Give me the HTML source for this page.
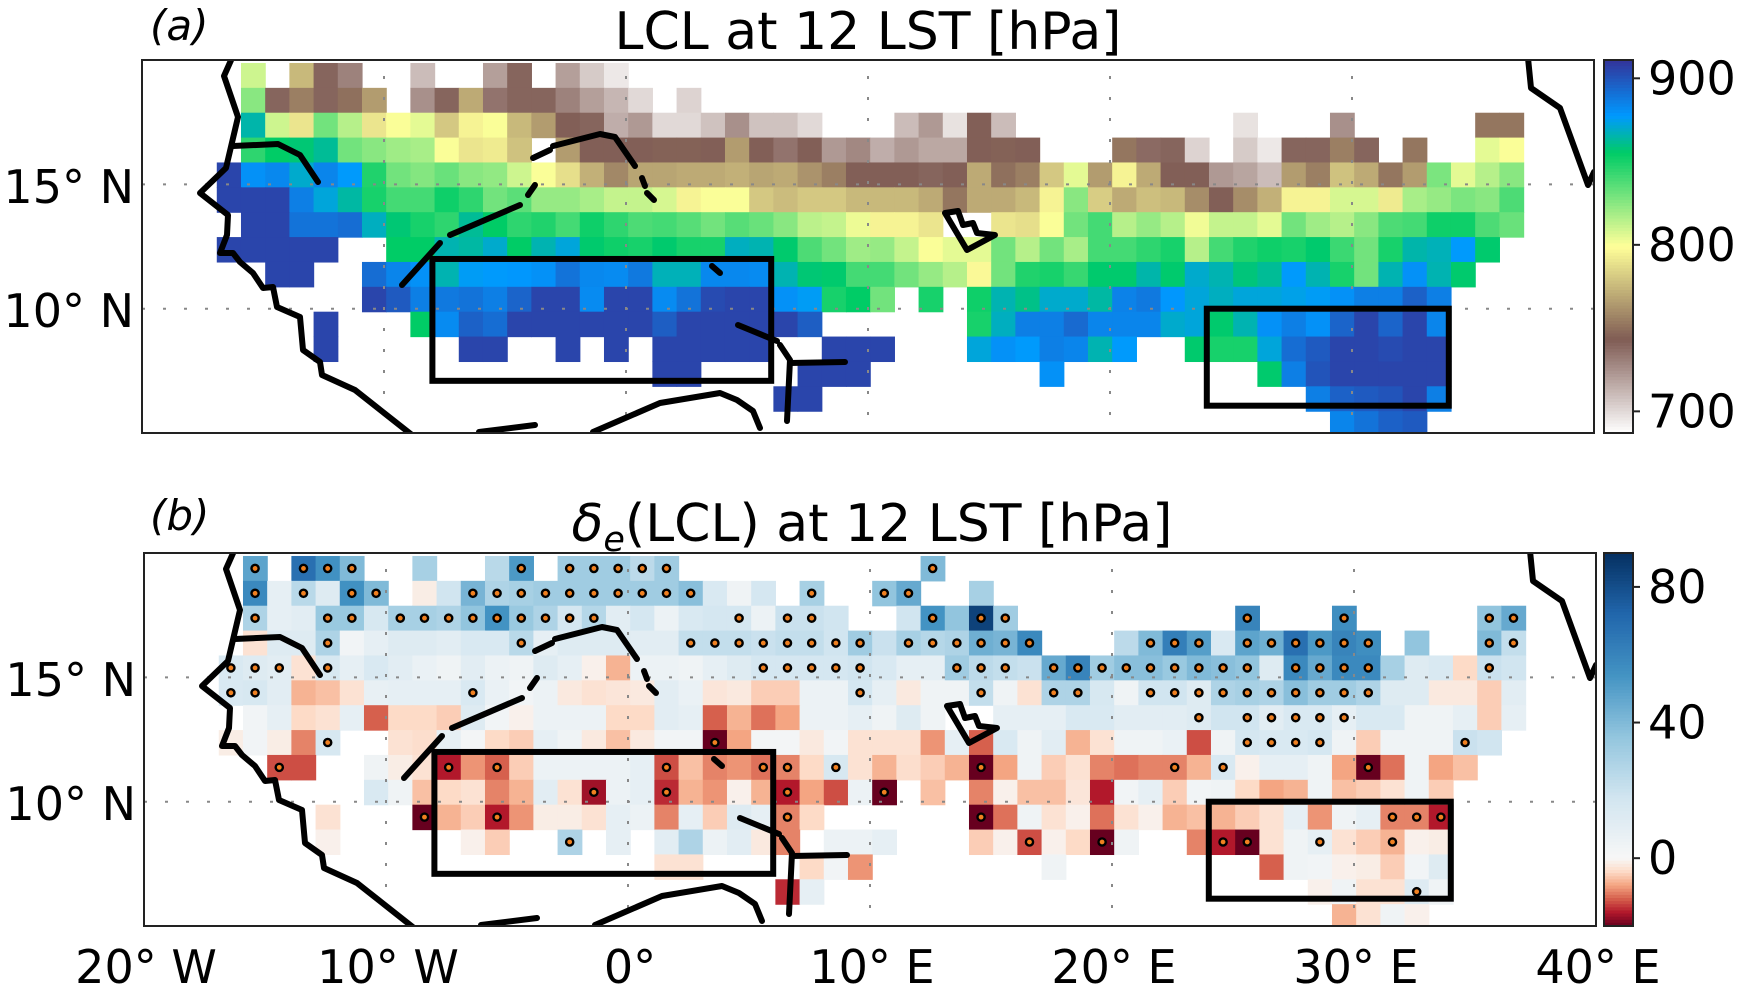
<!DOCTYPE html>
<html><head><meta charset="utf-8"><title>LCL maps</title>
<style>
html,body{margin:0;padding:0;background:#fff;}
svg{display:block;font-family:"DejaVu Sans","Liberation Sans",sans-serif;}
</style></head>
<body>
<svg id="fig" width="1741" height="993" viewBox="0 0 1741 993" xmlns="http://www.w3.org/2000/svg">
<defs>
<clipPath id="clipA"><rect x="142" y="60" width="1452" height="373"/></clipPath>
<clipPath id="clipB"><rect x="144" y="553" width="1452" height="373"/></clipPath>
</defs>
<rect x="0" y="0" width="1741" height="993" fill="#fff"/>
<g id="cellsA" clip-path="url(#clipA)"></g>
<g id="cellsB" clip-path="url(#clipB)"></g>
<g id="overA" clip-path="url(#clipA)"></g>
<g id="overB" clip-path="url(#clipB)"></g>
<rect x="142" y="60" width="1452" height="373" fill="none" stroke="#222" stroke-width="2"/>
<rect x="144" y="553" width="1452" height="373" fill="none" stroke="#222" stroke-width="2"/>
<g id="cbarA"></g>
<g id="cbarB"></g>

<text x="150" y="40" font-size="42" font-style="italic">(a)</text>
<text x="868" y="49" font-size="52" text-anchor="middle">LCL at 12 LST [hPa]</text>
<text x="150" y="530" font-size="42" font-style="italic">(b)</text>
<text x="872" y="541" font-size="52" text-anchor="middle"><tspan font-style="italic">δ</tspan><tspan font-style="italic" font-size="35" dy="10">e</tspan><tspan dy="-10">(LCL) at 12 LST [hPa]</tspan></text>

<g font-size="46" text-anchor="end">
<text x="134" y="203">15° N</text>
<text x="134" y="327">10° N</text>
<text x="136" y="696">15° N</text>
<text x="136" y="820">10° N</text>
</g>
<g font-size="46" text-anchor="middle">
<text x="146" y="983">20° W</text>
<text x="388" y="983">10° W</text>
<text x="630" y="983">0°</text>
<text x="872" y="983">10° E</text>
<text x="1114" y="983">20° E</text>
<text x="1356" y="983">30° E</text>
<text x="1598" y="983">40° E</text>
</g>
</svg>
<script>
const _ = null;
// Panel (a): LCL [hPa]; columns j=-1..52 (lon west edge -16.91+k), rows from 19.88N downward
const lclRows = [
[_,810,_,775,740,730,_,_,710,_,_,720,740,_,720,705,695],
[_,825,740,755,740,750,765,_,725,740,770,735,740,740,730,720,712,700,_,702],
[_,865,810,790,830,815,790,800,805,780,795,800,775,765,742,740,715,722,700,700,708,725,708,708,700,_,_,_,710,722,697,742,710,_,_,_,_,_,_,_,_,_,697,_,_,_,725,_,_,_,_,_,752,752],
[_,845,855,857,862,830,825,820,818,800,790,792,778,_,765,742,742,742,745,745,742,765,742,735,742,722,728,715,722,717,717,742,745,742,_,_,_,752,738,740,702,_,705,695,740,740,755,740,_,752,_,_,805,800],
[905,880,883,870,884,877,848,830,826,832,825,823,810, 800,788,772,758,768,768,770,770,772,768,770,762,755,742, 742,742,740,742,770,750,755,780,805,765,795,770,742,742, 722,718,710,765,755,778,770,752,765,828,805,815,825],
[905,905,905,886,872,864,850,840,840,852,845,830,835, 822,822,818,812,812,808,795,800,800,780,776,780,780,775, 775,775,770,752,770,770,775,795,825,782,770,777,775,760, 742,760,772,795,795,808,808,792,818,822,828,825,838],
[_,905,905,890,890,892,868,857,850,845,862,855,845, 848,840,852,845,838,840,836,830,836,832,825,814,812,803, 795,795,790,_,_,790,788,800,830,840,815,822,815,802, 812,812,805,830,820,815,825,838,840,852,852,838,832],
[905,905,905,905,905,_,_,855,855,866,864,870,855, 866,872,856,852,850,856,850,850,868,866,856,838,830,820, 822,812,800,805,805,830,815,830,818,840,840,845,850,815, 840,848,852,850,856,842,830,850,865,867,877,856,_],
[_,_,905,905,_,_,892,884,880,866,876,877,878, 880,890,883,882,888,867,867,883,883,882,866,857,856,840, 840,830,822,815,797,830,848,850,843,856,856,865,856,870, 866,858,862,877,866,850,830,866,880,866,856],
[_,_,_,_,_,_,905,898,886,888,890,886,895, 905,905,882,905,905,882,890,903,905,905,880,876,850,855, 830,_,850,_,852,866,860,870,870,864,885,888,878,872, 868,872,872,874,876,880,886,886,896,886],
[_,_,_,_,905,_,_,_,855,882,896,892,905, 905,905,905,905,905,897,905,905,905,905,905,897,_,_, _,_,_,_,850,868,886,886,893,884,884,884,870,872, 856,866,880,886,880,895,905,895,905,884],
[_,_,_,_,905,_,_,_,_,_,905,905,_, _,905,_,905,_,905,905,905,905,905,_,_,905,905, 905,_,_,_,872,880,877,886,884,866,877,_,_,856, 850,850,872,892,898,905,905,903,905,905],
[_,_,_,_,_,_,_,_,_,_,_,_,_, _,_,_,_,_,905,905,_,_,_,_,905,905,905, _,_,_,_,_,_,_,880,_,_,_,_,_,_, _,_,856,886,900,905,905,905,905,905],
[_,_,_,_,_,_,_,_,_,_,_,_,_, _,_,_,_,_,_,_,_,_,_,905,905,_,_, _,_,_,_,_,_,_,_,_,_,_,_,_,_, _,_,_,_,886,896,898,900,905,886],
[_,_,_,_,_,_,_,_,_,_,_,_,_, _,_,_,_,_,_,_,_,_,_,_,_,_,_, _,_,_,_,_,_,_,_,_,_,_,_,_,_, _,_,_,_,_,884,890,896,898]
];
// Panel (b): delta_e(LCL) [hPa]
const dRows = [
[_,48,_,68,55,40,_,_,30,_,_,25,52, _,32,32,32,24,32,_,_,_,_,_,_,_,_, _,_,40],
[_,58,8,25,12,55,40,_,-1.5,18,42,28,30, 32,32,32,32,32,32,38,14,4,16,_,30,_,_, 36,46,_,_,30],
[_,28,8,10,34,34,15,30,30,28,36,54,34, 28,16,26,10,16,5,14,16,16,5,20,20,18,_, _,18,54,36,84,32,_,_,_,_,_,_,_,_, _,60,_,_,_,56,_,_,_,_,_,36,46],
[_,-3,12,12,28,3,8,12,12,10,14,14,25, 8,12,12,12,10,10,22,22,22,20,22,22,18,32, 20,30,26,28,44,42,58,_,_,_,24,40,62,50, 14,48,44,68,52,60,56,_,36,_,_,40,22],
[14,12,10,-3,15,8,14,10,6,4,10,5,4, 12,8,-1,-7,5,5,4,8,12,16,16,16,16,18, 14,8,8,32,24,22,20,46,60,32,38,38,34,40, 38,36,12,58,46,58,58,30,12,14,-4,20,18],
[14,15,10,-7,-6,-3,7,8,8,8,14,6,3, 5,-2,-3,-2.5,-2,10,6,-2.5,-2,-5,-5,5,5,16, 8,-2,4,4,22,4,-3,28,28,15,4,18,18,12, 28,30,28,38,32,32,28,12,12,-2,-2,-5,10],
[_,3,8,-4,-3,8,-12,-4,-4,-5,12,3,-1, 5,5,5,-4,-4,10,8,-12,-7,-11,-8,5,5,8, 4,12,4,_,_,8,8,8,14,14,10,10,10,12, 18,18,10,14,14,8,14,14,4,4,8,-5,8],
[-1.5,3,-1.5,-10,15,_,_,-3,-3.5,8,2,-4,-5, 8,4,-2,-6,-2,3,3,-20,-8,2,2,-2,3,-3, -3,-3,-9,8,-12,14,4,10,-7,-3,4,4,6,-13, 4,16,14,14,16,4,-5,4,4,4,20,18,_],
[_,_,-13,-13,_,_,4,-1.5,-3,-16,-9,-12,-5, 5,5,5,5,8,-13,-6,-10,-9,-11,-10,-4,15,-3, -7,-3.5,-5,-7,-20,-8,4,-5,-3,-10,-11,-10,-10,-7, 14,-1,8,8,4,-8,-20,-11,4,-8,-6],
[_,_,_,_,_,_,14,4,-6,-4,-3,-10,-7, 10,-3,-17,5,8,-15,-7,-9,-1,-7,-16,-8,-13,5, -20,_,-6,_,-10,-1,-6,-6,-2.5,-16,3,8,-5,3, 4,-4,-8,-7,4,-6,-5,-3,4,-5],
[_,_,_,_,-3,_,_,_,-20,-7,-5,-16,-9, -1.5,-1.5,-3,8,5,-10,8,-5,12,8,-10,-4,_,_, _,_,_,_,-20,-11,4,-3,-1,-11,-3,-1,-7,-6, -7,-5,-3,8,-9,4,8,-10,-10,-16],
[_,_,_,_,-1,_,_,_,_,_,-1,-5,_, _,28,_,8,_,10,28,5,10,-2,-10,_,5,5, 8,_,_,_,-5,-1,-13,-1,-4,-20,4,_,_,-10, -16,-20,-3,4,8,-3,-5,-7,-1,-1.5],
[_,_,_,_,_,_,_,_,_,_,_,_,_, _,_,_,_,_,-3,-3,_,_,_,_,-4,3,-9, _,_,_,_,_,_,_,4,_,_,_,_,_,_, _,_,-12,4,3,-1,-1.5,-5,3,12],
[_,_,_,_,_,_,_,_,_,_,_,_,_, _,_,_,_,_,_,_,_,_,_,-15,8,_,_, _,_,_,_,_,_,_,_,_,_,_,_,_,_, _,_,_,_,-1,4,-3,-3,12,4],
[_,_,_,_,_,_,_,_,_,_,_,_,_, _,_,_,_,_,_,_,_,_,_,_,_,_,_, _,_,_,_,_,_,_,_,_,_,_,_,_,_, _,_,_,_,_,-7,-3,4,-1]
];
// significant cells (column index j, -1..52) per row
const sigRows = [
[0,2,3,4,11,13,14,15,16,17,28],
[0,2,4,5,9,10,11,12,13,14,15,16,17,18,23,26,27],
[0,3,4,6,7,8,9,10,11,12,13,14,20,22,23,28,30,31,41,45,51,52],
[3,11,18,19,20,21,22,23,24,25,27,28,29,30,31,32,37,38,39,41,42,43,44,45,46,51,52],
[-1,0,1,3,21,22,23,24,25,29,30,31,33,34,35,36,37,38,39,40,41,43,44,45,46,51],
[-1,0,9,25,30,33,34,37,38,39,40,41,42,43,44,45,46],
[39,41,42,43,44,45],
[3,19,41,42,43,44,50],
[1,8,10,17,21,22,24,30,38,40,46],
[14,17,22,26],
[7,10,22,30,47,48,49],
[13,32,35,40,41,44,47],
[],
[48],
[]
];
const lclTicks = [700,800,900];
const dTicks = [0,40,80];
const lclRange = [687,911];
const dRange = [-20,90];
const gridLons = [-10,0,10,20,30];
const gridLats = [10,15];

const NS='http://www.w3.org/2000/svg';
function mk(tag, attrs, parent){const e=document.createElementNS(NS,tag);for(const k in attrs)e.setAttribute(k,attrs[k]);parent.appendChild(e);return e;}

const PX_LON=24.2, PX_LAT=24.87;
function xA(lon){return 142+(lon+20)*PX_LON;}
function xB(lon){return 144+(lon+20)*PX_LON;}
function yA(lat){return 60+(20-lat)*PX_LAT;}
function yB(lat){return 553+(20-lat)*PX_LAT;}
function cellLonW(k){return -16.91+k;}
function cellLatN(i){return 19.88-i;}

function lerpStops(stops,t){
  t=Math.max(0,Math.min(1,t));
  for(let i=1;i<stops.length;i++){if(t<=stops[i][0]){const a=stops[i-1],b=stops[i];const f=(t-a[0])/(b[0]-a[0]||1);
    const c=[0,1,2].map(m=>Math.round(255*(a[1][m]+(b[1][m]-a[1][m])*f)));return 'rgb('+c.join(',')+')';}}
  const l=stops[stops.length-1][1];return 'rgb('+l.map(v=>Math.round(v*255)).join(',')+')';
}
const terrain=[[0,[0.2,0.2,0.6]],[0.15,[0,0.6,1]],[0.25,[0,0.8,0.4]],[0.5,[1,1,0.6]],[0.75,[0.5,0.36,0.33]],[1,[1,1,1]]];
const hex=h=>[parseInt(h.slice(1,3),16)/255,parseInt(h.slice(3,5),16)/255,parseInt(h.slice(5,7),16)/255];
const rdbu=['#67001f','#b2182b','#d6604d','#f4a582','#fddbc7','#f7f7f7','#d1e5f0','#92c5de','#4393c3','#2166ac','#053061'].map((h,i)=>[i/10,hex(h)]);
function colA(v){return lerpStops(terrain,(lclRange[1]-v)/(lclRange[1]-lclRange[0]));}
function colB(v){const t=v<0?0.5+0.5*v/(-dRange[0]):0.5+0.5*v/dRange[1];return lerpStops(rdbu,t);}

const gA=document.getElementById('cellsA'), gB=document.getElementById('cellsB');
lclRows.forEach((row,i)=>row.forEach((v,k)=>{
  if(v===null||v===undefined)return;
  const x0=xA(cellLonW(k)), x1=xA(cellLonW(k)+1), y0=yA(cellLatN(i)), y1=yA(cellLatN(i)-1);
  const r=mk('rect',{x:x0.toFixed(2),y:y0.toFixed(2),width:(x1-x0+0.6).toFixed(2),height:(y1-y0+0.6).toFixed(2),fill:colA(v)},gA);
  
  
}));
dRows.forEach((row,i)=>row.forEach((v,k)=>{
  if(v===null||v===undefined)return;
  const x0=xB(cellLonW(k)), x1=xB(cellLonW(k)+1), y0=yB(cellLatN(i)), y1=yB(cellLatN(i)-1);
  const r=mk('rect',{x:x0.toFixed(2),y:y0.toFixed(2),width:(x1-x0+0.6).toFixed(2),height:(y1-y0+0.6).toFixed(2),fill:colB(v)},gB);
  
  
}));
sigRows.forEach((cols,i)=>cols.forEach(j=>{
  const k=j+1;
  const cx=xB(cellLonW(k)+0.5), cy=yB(cellLatN(i)-0.5);
  const d=mk('circle',{cx:cx.toFixed(2),cy:cy.toFixed(2),r:3.6,fill:'#f08020',stroke:'#000','stroke-width':2.4},gB);
  
  
}));

function overlay(g,X,Y,dx,dy){
  gridLons.forEach(lon=>{const l=mk('line',{x1:X(lon),x2:X(lon),y1:Y(20.2),y2:Y(4.8),stroke:'#888','stroke-width':2,'stroke-dasharray':'3,18'},g);
    
    });
  gridLats.forEach(lat=>{const l=mk('line',{x1:X(-20),x2:X(40),y1:Y(lat),y2:Y(lat),stroke:'#888','stroke-width':2,'stroke-dasharray':'3,18'},g);
    
    });
  const coast=[
   [[232,58],[224,76],[238,117],[226,168],[200,193],[228,215],[227,235],[220,253],[233,253],[240,262],[253,273],[263,288],[273,287],[277,307],[300,317],[303,350],[320,362],[322,375],[355,390],[412,435]],
   [[233,146],[278,144],[300,155],[318,182]],
   [[479,432],[535,425]],
   [[593,432],[660,403],[720,393],[737,400],[753,411],[760,428]],
   [[402,285],[440,243]],[[450,235],[520,205]],[[528,195],[535,185]],
   [[533,158],[550,150]],[[553,146],[600,134],[615,137],[635,166]],
   [[642,178],[645,186]],[[647,193],[654,200]],[[712,266],[720,273]],
   [[738,325],[777,341]],[[780,345],[790,360],[787,421]],[[790,363],[845,362]],
   [[945,213],[958,211],[963,225],[973,223],[977,233],[995,235],[967,250],[945,213]],
   [[1528,58],[1531,88],[1560,108],[1588,185],[1594,172]]
  ];
  coast.forEach(c=>{const p=mk('polyline',{points:c.map(q=>(q[0]+dx)+','+(q[1]+dy)).join(' '),fill:'none',stroke:'#000','stroke-width':6,'stroke-linejoin':'round','stroke-linecap':'round'},g);
    
    });
  const boxes=[[-8,12,6,7.1],[24,10,34,6.1]];
  boxes.forEach(b=>{const r=mk('rect',{x:X(b[0]),y:Y(b[1]),width:X(b[2])-X(b[0]),height:Y(b[3])-Y(b[1]),fill:'none',stroke:'#000','stroke-width':6},g);
    
    });
}
overlay(document.getElementById('overA'),xA,yA,0,0);
overlay(document.getElementById('overB'),xB,yB,2,493);

function colorbar(g,y0,y1,range,col,ticks,name){
  const n=120,h=(y1-y0)/n;
  for(let i=0;i<n;i++){const v=range[1]-(i+0.5)/n*(range[1]-range[0]);
    const r=mk('rect',{x:1604,y:(y0+i*h).toFixed(2),width:29,height:(h+0.5).toFixed(2),fill:col(v)},g);
    
    }
  const f=mk('rect',{x:1604,y:y0,width:29,height:y1-y0,fill:'none',stroke:'#222','stroke-width':2},g);
  
  
  ticks.forEach(t=>{const y=y1-(t-range[0])/(range[1]-range[0])*(y1-y0);
    const l=mk('line',{x1:1633,x2:1640,y1:y,y2:y,stroke:'#222','stroke-width':2},g);
    
    
    const tx=mk('text',{x:1648,y:y+16,'font-size':46},g);tx.textContent=String(t);
    
    });
}
colorbar(document.getElementById('cbarA'),60,433,lclRange,colA,lclTicks,'colorbar-a');
colorbar(document.getElementById('cbarB'),553,926,dRange,colB,dTicks,'colorbar-b');
</script>
</body></html>
